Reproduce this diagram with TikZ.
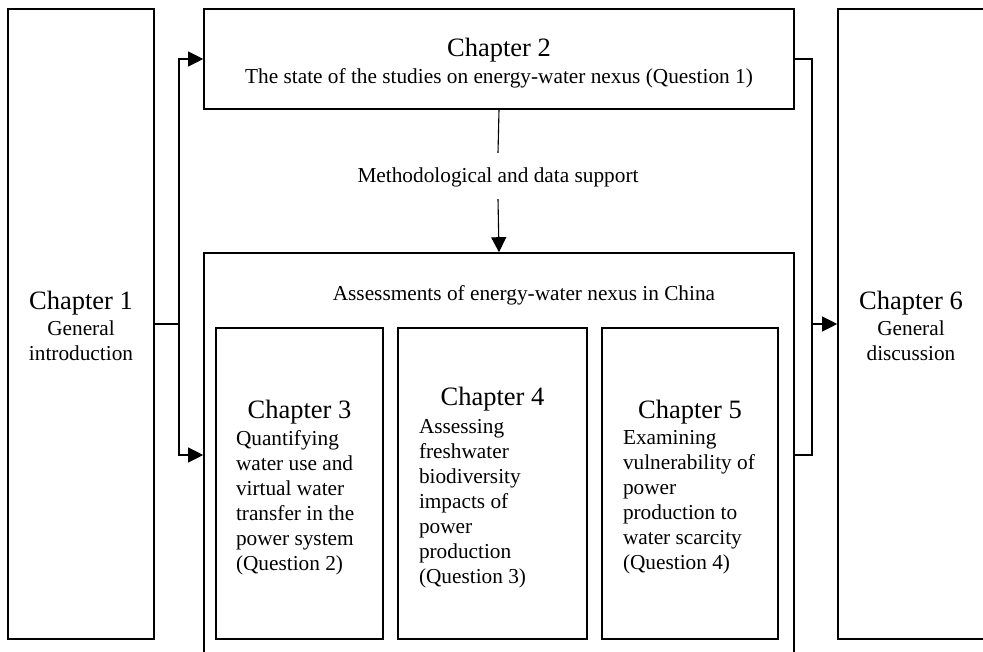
\documentclass[tikz,border=0pt]{standalone}
\usepackage{fontspec}
\setmainfont{Liberation Serif}
\usetikzlibrary{arrows.meta}
\newcommand{\chapfont}{\fontsize{26.5}{30}\selectfont}
\newcommand{\bodyfont}{\fontsize{21.3}{25}\selectfont}
\tikzset{
  chapbox/.style={draw,line width=1.6pt,inner sep=0pt,font=\bodyfont},
  link/.style={line width=1.1pt},
  >={Triangle[length=15pt,width=15pt]}
}
\begin{document}
\begin{tikzpicture}[x=1pt,y=-1pt]
\useasboundingbox (0,0) rectangle (983,652);
\clip (0,0) rectangle (983,652);

\node[chapbox,align=center,minimum width=146pt,minimum height=630pt] (ch1) at (81,324) {{\chapfont\rule{0pt}{22pt}Chapter 1}\\[1pt] General\\ introduction};

\node[chapbox,align=center,minimum width=590pt,minimum height=100pt] (ch2) at (499,59) {{\chapfont\rule{0pt}{26pt}Chapter 2}\\[2pt] The state of the studies on energy-water nexus (Question 1)};

\node[font=\bodyfont,text height=19pt,text depth=5pt,inner ysep=11pt] (method) at (498,176) {Methodological and data support};

\node[chapbox,minimum width=590pt,minimum height=404pt] (assess) at (499,455) {};
\node[font=\bodyfont] (assesslabel) at (524,295) {Assessments of energy-water nexus in China};

\node[chapbox,align=flush left,minimum width=167pt,minimum height=311pt,text width=127pt] (ch3) at (299.5,483.5) {\makebox[\linewidth]{\chapfont\rule{0pt}{26pt}Chapter 3}\\[2pt] Quantifying\\ water use and\\ virtual water\\ transfer in the\\ power system\\ (Question 2)};
\node[chapbox,align=flush left,minimum width=189pt,minimum height=311pt,text width=147pt] (ch4) at (492.5,483.5) {\makebox[\linewidth]{\chapfont\rule{0pt}{26pt}Chapter 4}\\[3pt] Assessing\\ freshwater\\ biodiversity\\ impacts of\\ power\\ production\\ (Question 3)};
\node[chapbox,align=flush left,minimum width=176pt,minimum height=311pt,text width=134pt] (ch5) at (690,483.5) {\makebox[\linewidth]{\chapfont\rule{0pt}{26pt}Chapter 5}\\[1pt] Examining\\ vulnerability of\\ power\\ production to\\ water scarcity\\ (Question 4)};

\node[chapbox,align=center,minimum width=146pt,minimum height=630pt] (ch6) at (911,324) {{\chapfont\rule{0pt}{22pt}Chapter 6}\\[1pt] General\\ discussion};

\coordinate (lbus) at (179,324);
\coordinate (rbus) at (812,324);

\draw[link] (ch1.east) -- (lbus);
\draw[link,->] (lbus) |- (ch2.west);
\draw[link,->] (lbus) |- (assess.west);
\draw[link] (ch2.east) -| (rbus) |- (assess.east);
\draw[link,->] (rbus) -- (ch6.west);
\draw[link] (ch2.south) -- (method.north);
\draw[link,->] (method.south) -- (assess.north);

\end{tikzpicture}
\end{document}
